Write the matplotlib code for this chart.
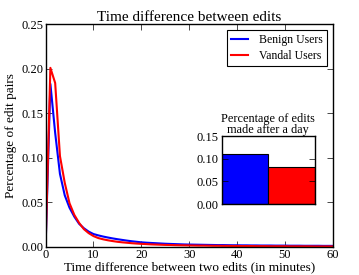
import matplotlib
matplotlib.use("Agg")
import matplotlib.pyplot as plt
import numpy as np

# minutes between two consecutive edits
minutes = np.arange(0, 61)

benign = [0.0, 0.183, 0.128, 0.082, 0.058, 0.044, 0.034, 0.026, 0.021, 0.0172,
          0.0145, 0.0130, 0.0117, 0.0106, 0.0096, 0.0087, 0.0079, 0.0071, 0.0064, 0.0058,
          0.0052, 0.0048, 0.0045, 0.0042, 0.0039, 0.0036, 0.0034, 0.0032, 0.0030, 0.0028,
          0.0027, 0.0026, 0.0025, 0.0024, 0.0023, 0.0022, 0.0021, 0.0021, 0.0020, 0.0019,
          0.0019, 0.0018, 0.0018, 0.0017, 0.0017, 0.0016, 0.0016, 0.0016, 0.0015, 0.0015,
          0.0015, 0.0014, 0.0014, 0.0014, 0.0013, 0.0013, 0.0013, 0.0013, 0.0012, 0.0012,
          0.0012]

vandal = [0.0, 0.201, 0.184, 0.102, 0.072, 0.049, 0.036, 0.027, 0.020, 0.0155,
          0.0122, 0.0100, 0.0086, 0.0075, 0.0066, 0.0058, 0.0052, 0.0047, 0.0042, 0.0038,
          0.0035, 0.0032, 0.0029, 0.0027, 0.0025, 0.0023, 0.0022, 0.0020, 0.0019, 0.0018,
          0.0017, 0.0016, 0.0015, 0.0015, 0.0014, 0.0013, 0.0013, 0.0012, 0.0012, 0.0011,
          0.0011, 0.0010, 0.0010, 0.0010, 0.0009, 0.0009, 0.0009, 0.0008, 0.0008, 0.0008,
          0.0008, 0.0007, 0.0007, 0.0007, 0.0007, 0.0007, 0.0006, 0.0006, 0.0006, 0.0006,
          0.0006]

# share of edits made more than a day after the previous one
after_day = [0.11, 0.081]
groups = ["Benign Users", "Vandal Users"]

plt.rcParams['font.family'] = 'serif'
plt.rcParams['font.serif'] = ['Liberation Serif', 'DejaVu Serif']
plt.rcParams['xtick.direction'] = 'in'
plt.rcParams['ytick.direction'] = 'in'
plt.rcParams['xtick.top'] = True
plt.rcParams['ytick.right'] = True
plt.rcParams['xtick.major.size'] = 4
plt.rcParams['ytick.major.size'] = 4
plt.rcParams['xtick.major.width'] = 0.5
plt.rcParams['ytick.major.width'] = 0.5
plt.rcParams['axes.linewidth'] = 1.0
plt.rcParams['xtick.labelsize'] = 9
plt.rcParams['ytick.labelsize'] = 9

fig = plt.figure(figsize=(3.59, 2.75), dpi=100)
ax = fig.add_axes([0.127, 0.102, 0.8, 0.81])

ax.plot(minutes, benign, color="blue", lw=1.5, label=groups[0])
ax.plot(minutes, vandal, color="red", lw=1.5, label=groups[1])
ax.set_xlim(0, 60)
ax.set_ylim(0, 0.25)
ax.set_xticks([0, 10, 20, 30, 40, 50, 60])
ax.set_yticks([0.0, 0.05, 0.10, 0.15, 0.20, 0.25])
ax.set_yticklabels(["0.00", "0.05", "0.10", "0.15", "0.20", "0.25"])
ax.tick_params(axis="x", pad=1.5)
ax.tick_params(axis="y", pad=1.7)
ax.set_title("Time difference between edits", fontsize=11, pad=0)
ax.set_xlabel("Time difference between two edits (in minutes)", fontsize=9.5, labelpad=0)
ax.set_ylabel("Percentage of edit pairs", fontsize=9.5, labelpad=3)
leg = ax.legend(loc="upper right", fontsize=8.5, fancybox=False, framealpha=1,
                edgecolor="black", handlelength=1.5, handletextpad=0.9,
                borderpad=0.35, labelspacing=0.35)
leg.get_frame().set_linewidth(0.8)

# inset bar chart
ins = fig.add_axes([0.6175, 0.258, 0.26, 0.247])
ins.bar([0, 1], after_day, width=1, align="edge", color=["blue", "red"], edgecolor="black", lw=0.8)
ins.set_xlim(0, 2)
ins.set_ylim(0, 0.15)
ins.set_xticks([])
ins.set_yticks([0.0, 0.05, 0.10, 0.15])
ins.set_yticklabels(["0.00", "0.05", "0.10", "0.15"])
ins.tick_params(axis="y", pad=2.4)
ins.set_title("Percentage of edits\nmade after a day", fontsize=8.8, pad=0.5, linespacing=0.9)

fig.savefig("out.png", dpi=100)
